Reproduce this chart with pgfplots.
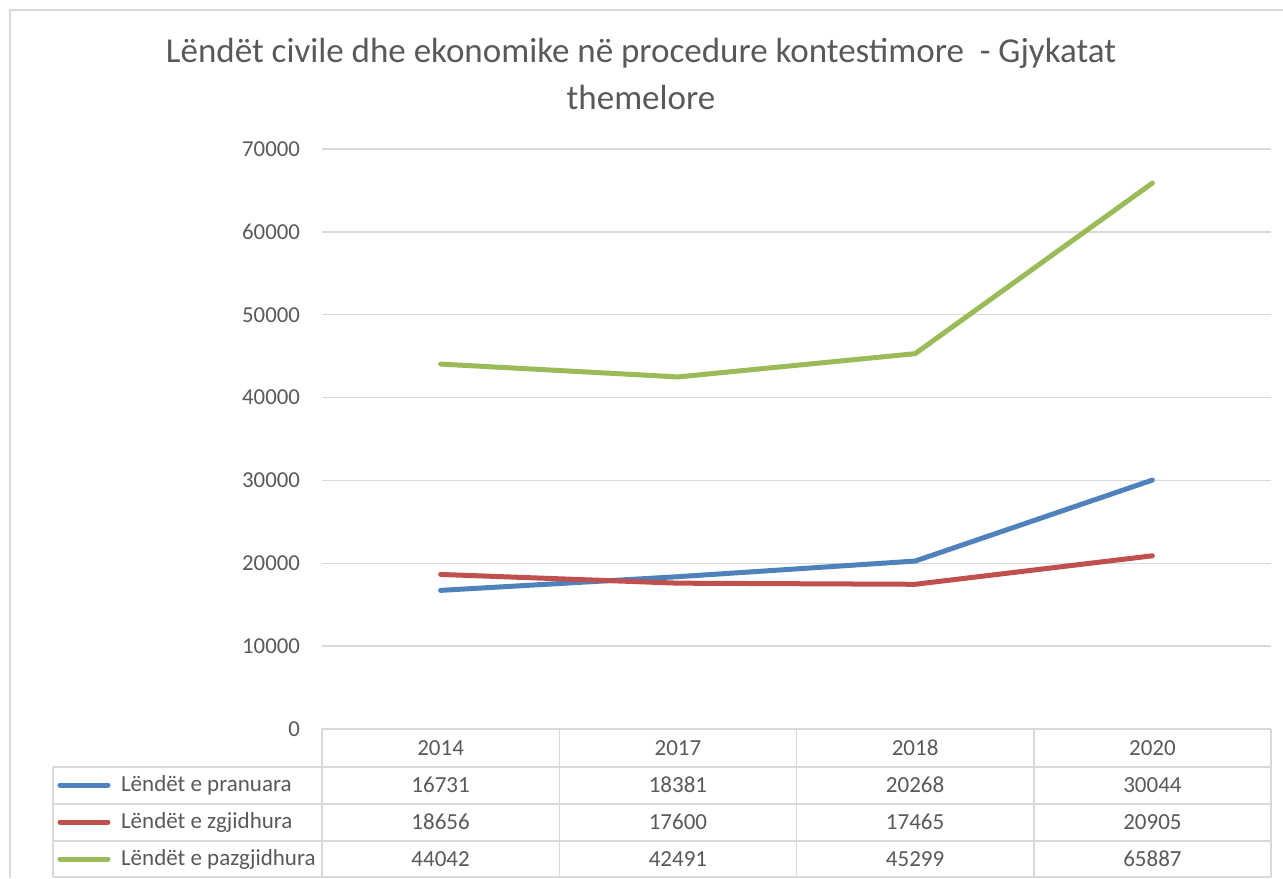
\documentclass[border=0pt]{standalone}
\usepackage{pgfplots}
\pgfplotsset{compat=1.18}
\usepackage{fontspec}
\setmainfont{Carlito}
\definecolor{sblue}{HTML}{4F81BD}
\definecolor{sred}{HTML}{C0504D}
\definecolor{sgreen}{HTML}{9BBB59}
\definecolor{gridc}{HTML}{D9D9D9}
\definecolor{txt}{HTML}{595959}
\begin{document}
\begin{tikzpicture}
\begin{scope}[x=0.5pt,y=0.5pt]
\path[use as bounding box] (0,0) rectangle (1283,878);
\draw[gridc, line width=0.75pt] (10,0) -- (10,868) -- (1283,868);
\node[txt, font=\fontsize{17.5}{23.5}\selectfont, align=center] at (641,804.5) {Lëndët civile dhe ekonomike në procedure kontestimore \ - Gjykatat\\themelore};
\end{scope}
\begin{axis}[at={(161pt,74.5pt)}, anchor=south west, scale only axis,
  width=474.5pt, height=290pt,
  xmin=0, xmax=4, ymin=0, ymax=70000,
  ytick={0,10000,...,70000}, xtick=\empty,
  axis line style={draw=none},
  ymajorgrids, grid style={gridc, line width=0.75pt},
  major tick length=0pt,
  scaled y ticks=false,
  /pgf/number format/assume math mode=true,
  y tick label style={txt, font=\fontsize{11.4}{13}\selectfont, xshift=-7.5pt, /pgf/number format/.cd, fixed, 1000 sep={}},
  clip=false]
\addplot[sblue, line width=2.5pt, line join=round, line cap=round] coordinates {(0.5,16731)(1.5,18381)(2.5,20268)(3.5,30044)};
\addplot[sred, line width=2.5pt, line join=round, line cap=round] coordinates {(0.5,18656)(1.5,17600)(2.5,17465)(3.5,20905)};
\addplot[sgreen, line width=2.5pt, line join=round, line cap=round] coordinates {(0.5,44042)(1.5,42491)(2.5,45299)(3.5,65887)};
\end{axis}
\begin{scope}[x=0.5pt,y=0.5pt]
\begin{scope}[gridc, line width=0.75pt]
\draw (322,149) -- (1271,149);
\foreach \yy in {111,74,37,1} {\draw (53,\yy) -- (1271,\yy);}
\draw (53,111) -- (53,1);
\foreach \xx in {322,559.25,796.5,1033.75,1271} {\draw (\xx,149) -- (\xx,1);}
\end{scope}
\begin{scope}[every node/.style={txt, font=\fontsize{11.5}{13}\selectfont}]
\node at (440.6,130) {2014};
\node at (677.9,130) {2017};
\node at (915.1,130) {2018};
\node at (1152.4,130) {2020};
\draw[sblue, line width=2.5pt, line cap=round] (60,93) -- (108,93);
\draw[sred, line width=2.5pt, line cap=round] (60,56) -- (108,56);
\draw[sgreen, line width=2.5pt, line cap=round] (60,19) -- (108,19);
\node[anchor=west] at (114,93) {Lëndët e pranuara};
\node[anchor=west] at (114,56) {Lëndët e zgjidhura};
\node[anchor=west] at (114,19) {Lëndët e pazgjidhura};
\node at (440.6,93) {16731};
\node at (677.9,93) {18381};
\node at (915.1,93) {20268};
\node at (1152.4,93) {30044};
\node at (440.6,56) {18656};
\node at (677.9,56) {17600};
\node at (915.1,56) {17465};
\node at (1152.4,56) {20905};
\node at (440.6,19) {44042};
\node at (677.9,19) {42491};
\node at (915.1,19) {45299};
\node at (1152.4,19) {65887};
\end{scope}
\end{scope}
\end{tikzpicture}
\end{document}
